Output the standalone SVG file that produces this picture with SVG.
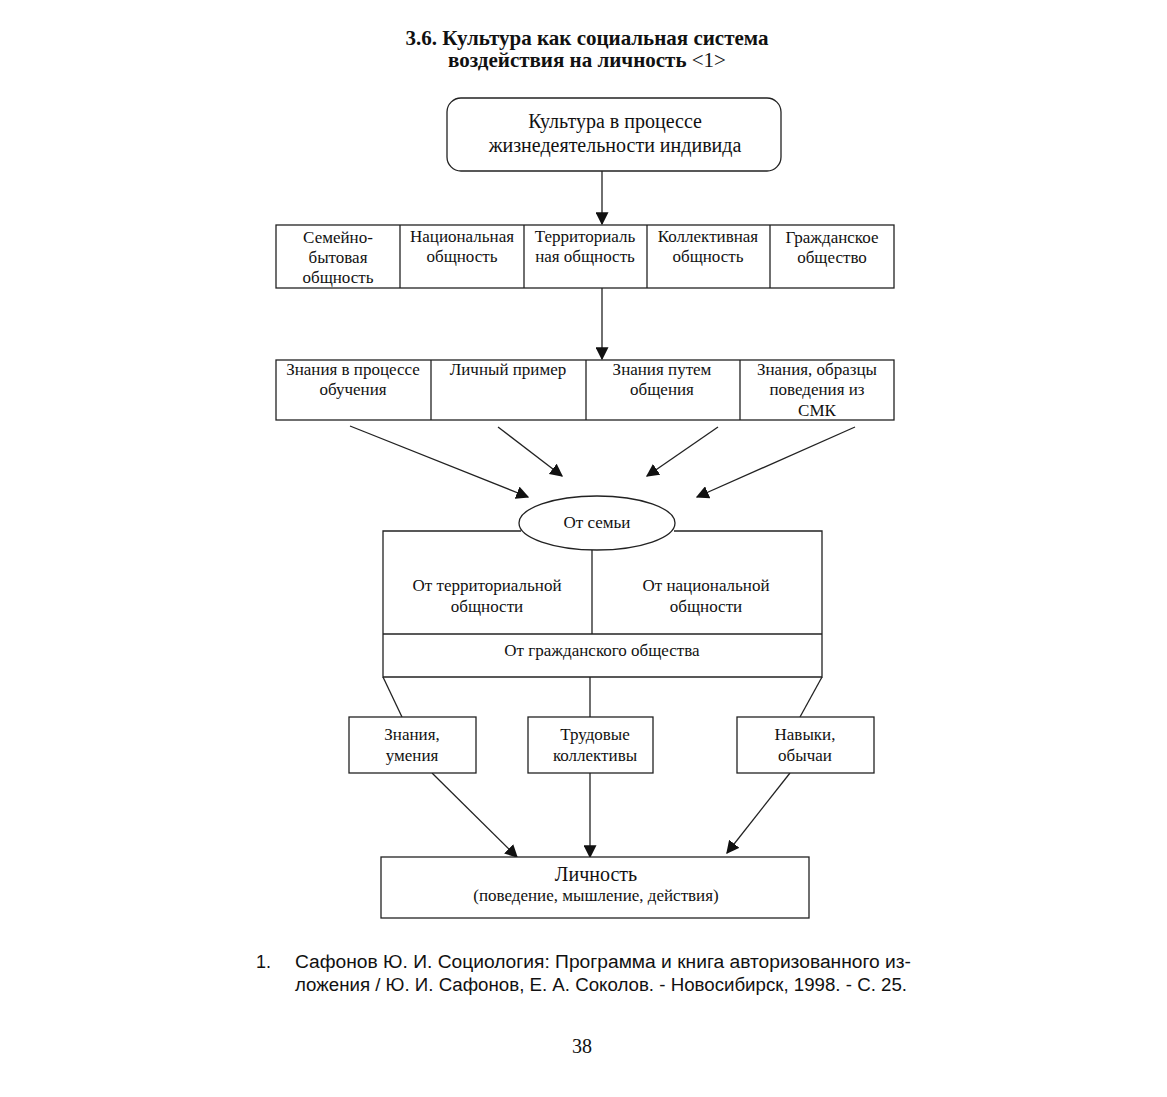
<svg xmlns="http://www.w3.org/2000/svg" width="1167" height="1097" viewBox="0 0 1167 1097">
<defs>
<marker id="ahb" viewBox="0 0 10 10" refX="9" refY="5" markerWidth="13" markerHeight="13" markerUnits="userSpaceOnUse" orient="auto">
<path d="M0,0 L10,5 L0,10 z" fill="#111"/>
</marker>
</defs>
<style>
.b{fill:#fff;stroke:#222;stroke-width:1.3}
.l{fill:none;stroke:#222;stroke-width:1.3}
.t{font-family:"Liberation Serif","Times New Roman",serif;font-size:17px;fill:#111;text-anchor:middle}
.tl{font-family:"Liberation Serif","Times New Roman",serif;font-size:20px;fill:#111;text-anchor:middle}
.h{font-family:"Liberation Serif","Times New Roman",serif;font-size:21px;font-weight:bold;fill:#111;text-anchor:middle}
.f{font-family:"Liberation Sans Narrow","Liberation Sans",Arial,sans-serif;font-size:18px;fill:#111}
</style>
<rect width="1167" height="1097" fill="#fff"/>
<g id="title">
<text class="h" x="587" y="45">3.6. Культура как социальная система</text>
<text class="h" x="587" y="67">воздействия на личность <tspan font-weight="normal">&lt;1&gt;</tspan></text>
</g>
<g id="connectors">
<line class="l" x1="602" y1="171" x2="602" y2="224" marker-end="url(#ahb)"/>
<line class="l" x1="602" y1="288" x2="602" y2="359" marker-end="url(#ahb)"/>
<line class="l" x1="350" y1="426" x2="528" y2="497" marker-end="url(#ahb)"/>
<line class="l" x1="498" y1="427" x2="562" y2="476" marker-end="url(#ahb)"/>
<line class="l" x1="718" y1="427" x2="647" y2="476" marker-end="url(#ahb)"/>
<line class="l" x1="855" y1="427" x2="697" y2="497" marker-end="url(#ahb)"/>
<line class="l" x1="383" y1="677" x2="402" y2="717"/>
<line class="l" x1="590" y1="677" x2="590" y2="717"/>
<line class="l" x1="822" y1="677" x2="800" y2="717"/>
<line class="l" x1="432" y1="773" x2="517" y2="857" marker-end="url(#ahb)"/>
<line class="l" x1="590" y1="773" x2="590" y2="857" marker-end="url(#ahb)"/>
<line class="l" x1="790" y1="773" x2="727" y2="853" marker-end="url(#ahb)"/>
</g>
<g id="culture">
<rect class="b" x="447" y="98" width="334" height="73" rx="14"/>
<text class="tl" x="615" y="128">Культура в процессе</text>
<text class="tl" x="615" y="152">жизнедеятельности индивида</text>
</g>
<g id="row1">
<rect class="b" x="276" y="225" width="618" height="63"/>
<line class="l" x1="400" y1="225" x2="400" y2="288"/>
<line class="l" x1="524" y1="225" x2="524" y2="288"/>
<line class="l" x1="647" y1="225" x2="647" y2="288"/>
<line class="l" x1="770" y1="225" x2="770" y2="288"/>
<text class="t" x="338" y="243">Семейно-</text>
<text class="t" x="338" y="263">бытовая</text>
<text class="t" x="338" y="283">общность</text>
<text class="t" x="462" y="242">Национальная</text>
<text class="t" x="462" y="262">общность</text>
<text class="t" x="585" y="242">Территориаль</text>
<text class="t" x="585" y="262">ная общность</text>
<text class="t" x="708" y="242">Коллективная</text>
<text class="t" x="708" y="262">общность</text>
<text class="t" x="832" y="243">Гражданское</text>
<text class="t" x="832" y="263">общество</text>
</g>
<g id="row2">
<rect class="b" x="276" y="360" width="618" height="60"/>
<line class="l" x1="431" y1="360" x2="431" y2="420"/>
<line class="l" x1="586" y1="360" x2="586" y2="420"/>
<line class="l" x1="740" y1="360" x2="740" y2="420"/>
<text class="t" x="353" y="375">Знания в процессе</text>
<text class="t" x="353" y="395">обучения</text>
<text class="t" x="508" y="375">Личный пример</text>
<text class="t" x="662" y="375">Знания путем</text>
<text class="t" x="662" y="395">общения</text>
<text class="t" x="817" y="375">Знания, образцы</text>
<text class="t" x="817" y="395">поведения из</text>
<text class="t" x="817" y="416">СМК</text>
</g>
<g id="sources">
<polyline class="l" points="521,531 383,531 383,677 822,677 822,531 674,531"/>
<line class="l" x1="592" y1="550" x2="592" y2="634"/>
<line class="l" x1="383" y1="634" x2="822" y2="634"/>
<text class="t" x="487" y="591">От территориальной</text>
<text class="t" x="487" y="612">общности</text>
<text class="t" x="706" y="591">От национальной</text>
<text class="t" x="706" y="612">общности</text>
<text class="t" x="602" y="656">От гражданского общества</text>
</g>
<g id="family">
<ellipse class="b" cx="597" cy="523" rx="78" ry="27"/>
<text class="t" x="597" y="528">От семьи</text>
</g>
<g id="knowledge">
<rect class="b" x="349" y="717" width="127" height="56"/>
<text class="t" x="412" y="740">Знания,</text>
<text class="t" x="412" y="761">умения</text>
</g>
<g id="labour">
<rect class="b" x="528" y="717" width="125" height="56"/>
<text class="t" x="595" y="740">Трудовые</text>
<text class="t" x="595" y="761">коллективы</text>
</g>
<g id="skills">
<rect class="b" x="737" y="717" width="137" height="56"/>
<text class="t" x="805" y="740">Навыки,</text>
<text class="t" x="805" y="761">обычаи</text>
</g>
<g id="person">
<rect class="b" x="381" y="857" width="428" height="61"/>
<text class="tl" x="596" y="881">Личность</text>
<text class="t" x="596" y="901">(поведение, мышление, действия)</text>
</g>
<g id="footnote">
<text class="f" x="256" y="968">1.</text>
<text class="f" x="295" y="968" textLength="616" lengthAdjust="spacingAndGlyphs">Сафонов Ю. И. Социология: Программа и книга авторизованного из-</text>
<text class="f" x="295" y="991" textLength="612" lengthAdjust="spacingAndGlyphs">ложения / Ю. И. Сафонов, Е. А. Соколов. - Новосибирск, 1998. - С. 25.</text>
<text class="tl" x="582" y="1053">38</text>
</g>
</svg>
